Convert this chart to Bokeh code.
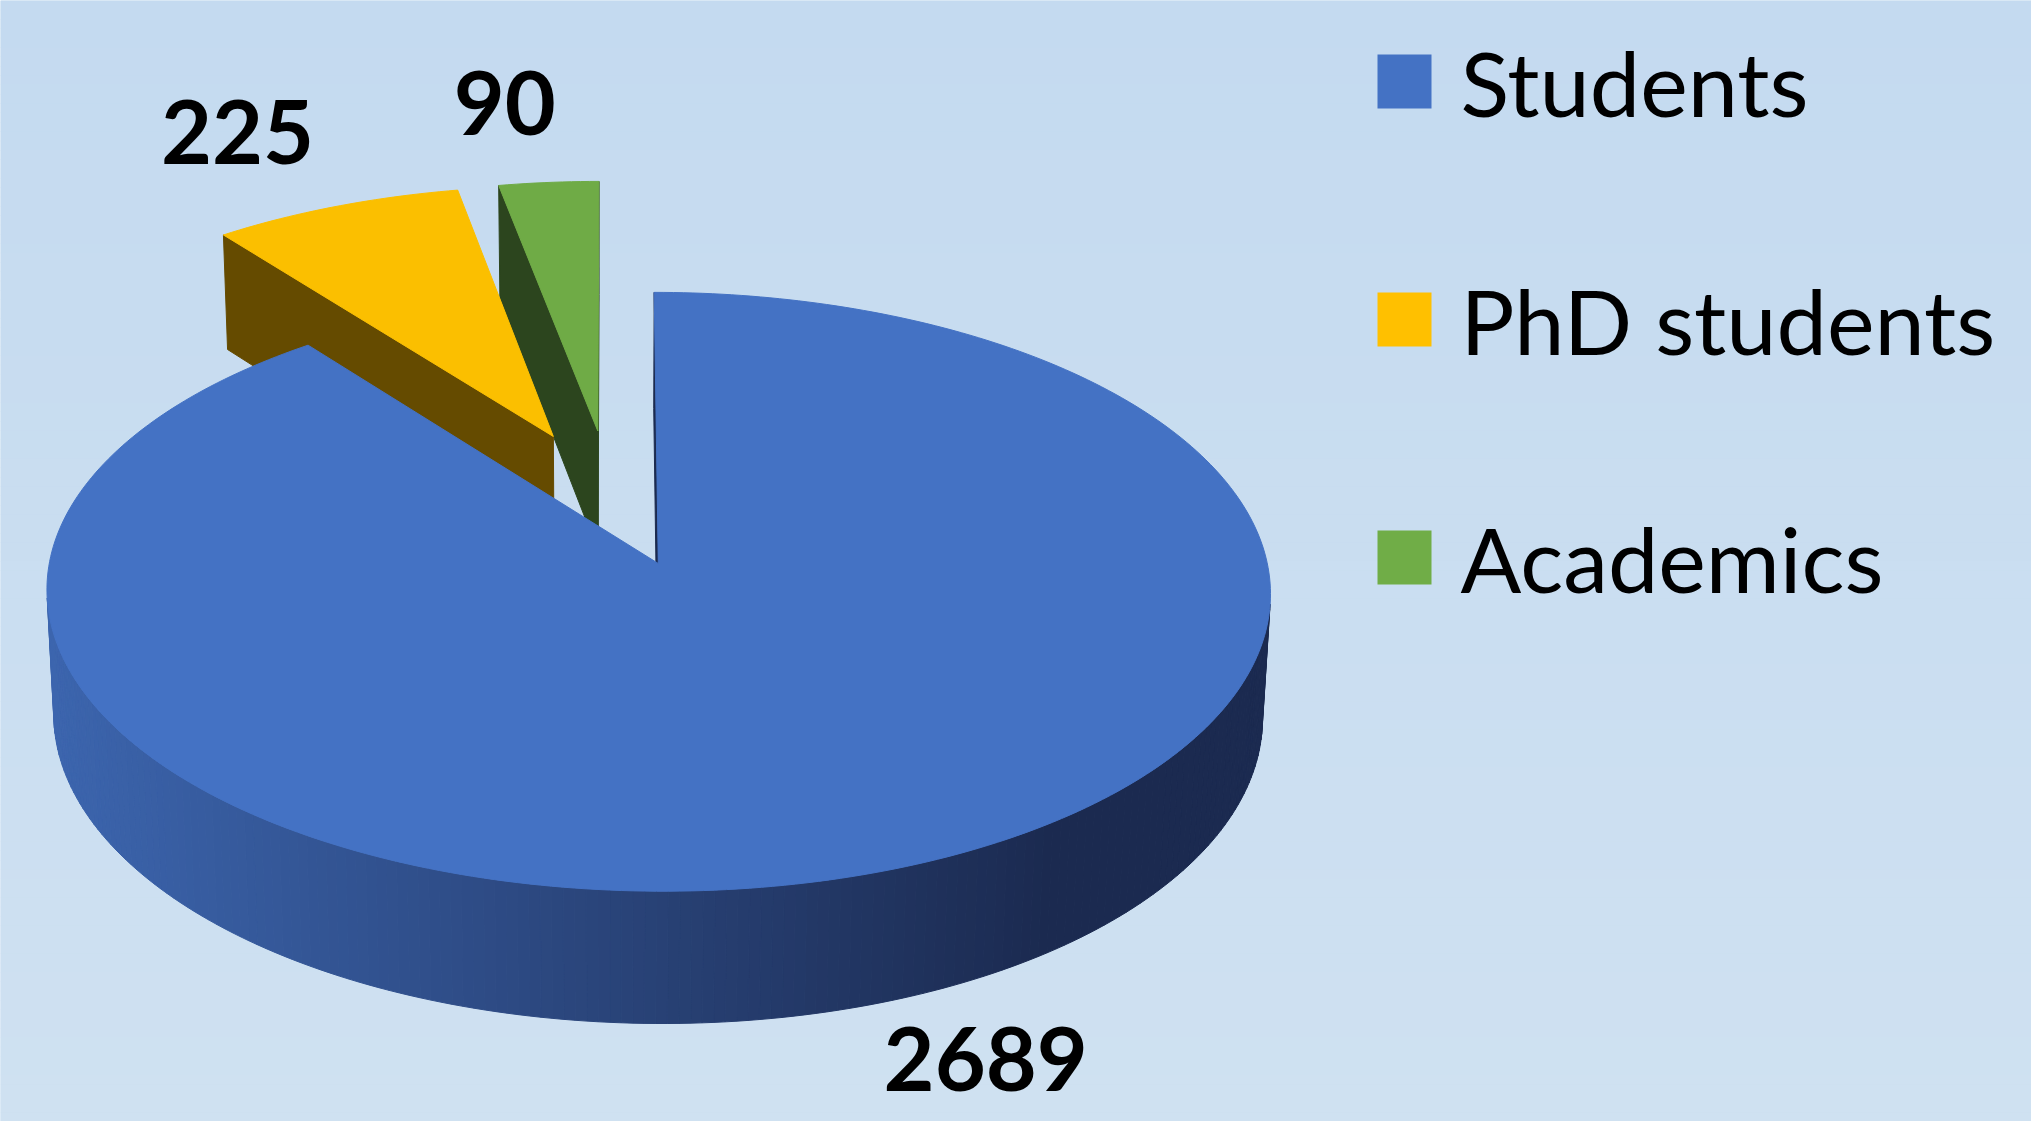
import numpy as np
from bokeh.plotting import figure
from bokeh.models import Range1d
from bokeh.core.properties import value
from bokeh.embed import file_html
from bokeh.resources import INLINE

# ---------------- data ----------------
categories = ["Students", "PhD students", "Academics"]
counts = [2689, 225, 90]
top_colors = ["#4472C4", "#FBBF00", "#6FAB46"]
legend_colors = ["#4472C4", "#FFC000", "#70AD47"]
side_colors = ["#1B2A4F", "#654B00", "#2C451E"]
label_texts = [str(v) for v in counts]

# ---------------- layout / style ----------------
W, H = 2031, 1121
X0, Y0 = 0, 0
BG_TOP = np.array([0xC4, 0xDA, 0xF0])
BG_BOT = np.array([0xCF, 0xE1, 0xF1])
WALL_LIGHT = np.array([0x3C, 0x65, 0xAE])
WALL_DARK = np.array([0x1B, 0x2A, 0x50])

# 3D perspective projection of the pie (pixel space of the page)
CX, CY = 610.5, 497.0
F = 6439.0
G = 10.8
S = 0.477
C = np.sqrt(1 - S * S)
T = S / C
DEPTH = 0.2357
EXPLODE = 0.24
CAM = np.array([0.0, -G * C * C, G * C * S])
LABEL_R = [1.765, 1.6, 1.6]
LABEL_DX = -28

LEG_X, LEG_SIZE, LEG_Y0, LEG_STEP, LEG_TX = 1377, 54, 81, 238, 1460


def proj(X, Y, Z):
    X = np.asarray(X, float)
    Y = np.asarray(Y, float)
    d = G + Y - Z * T
    return CX + F * X / d, CY - F * (Y * S + Z * C) / d


def hexc(rgb):
    r, g, b = [int(round(v)) for v in rgb]
    return "#%02x%02x%02x" % (r, g, b)


p = figure(width=W, height=H, output_backend="svg", toolbar_location=None,
           x_range=Range1d(X0, X0 + W), y_range=Range1d(Y0 + H, Y0),
           x_axis_type=None, y_axis_type=None, min_border=0)
p.outline_line_color = None
p.background_fill_color = hexc(BG_TOP)
p.border_fill_color = hexc(BG_TOP)

# background vertical gradient
nb = 120
edges = np.linspace(0, 1121, nb + 1)
bcols = [hexc(BG_TOP + (BG_BOT - BG_TOP) * (k + 0.5) / nb) for k in range(nb)]
p.quad(left=0, right=2031, top=edges[:-1], bottom=edges[1:] + 0.5,
       fill_color=bcols, line_color=None)

# ---------------- pie geometry ----------------
total = float(sum(counts))
angles = np.concatenate([[0.0], np.cumsum(counts)]) / total * 2 * np.pi

xs_all, ys_all, cols_all = [], [], []
for i in [2, 1, 0]:
    a0, a1 = angles[i], angles[i + 1]
    mid = 0.5 * (a0 + a1)
    ox, oy = EXPLODE * np.sin(mid), EXPLODE * np.cos(mid)
    nseg = max(6, int(np.degrees(a1 - a0) / 1.0) + 2)
    th = np.linspace(a0, a1, nseg)
    rx = ox + np.sin(th)
    ry = oy + np.cos(th)
    tx, ty = proj(rx, ry, 0.0)
    bx, by = proj(rx, ry, -DEPTH)
    # outer wall strips
    for k in range(nseg - 1):
        tm = 0.5 * (th[k] + th[k + 1])
        n = np.array([np.sin(tm), np.cos(tm), 0.0])
        pt = np.array([ox + np.sin(tm), oy + np.cos(tm), 0.0])
        if np.dot(CAM - pt, n) <= 0:
            continue
        px = [tx[k], tx[k + 1], bx[k + 1], bx[k]]
        py = [ty[k], ty[k + 1], by[k + 1], by[k]]
        if i == 0:
            f = np.clip((np.mean(px) - 50) / 1000.0, 0, 1)
            col = hexc(WALL_LIGHT + (WALL_DARK - WALL_LIGHT) * f)
        else:
            col = side_colors[i]
        xs_all.append(px); ys_all.append(py); cols_all.append(col)
    # radial cut faces
    for ang, sg in ((a0, -1.0), (a1, 1.0)):
        n = sg * np.array([np.cos(ang), -np.sin(ang), 0.0])
        pt = np.array([ox, oy, 0.0])
        if np.dot(CAM - pt, n) <= 0:
            continue
        ex, ey = ox + np.sin(ang), oy + np.cos(ang)
        qx_t, qy_t = proj([ox, ex], [oy, ey], 0.0)
        qx_b, qy_b = proj([ox, ex], [oy, ey], -DEPTH)
        xs_all.append([qx_t[0], qx_t[1], qx_b[1], qx_b[0]])
        ys_all.append([qy_t[0], qy_t[1], qy_b[1], qy_b[0]])
        cols_all.append(side_colors[i])
    # top face
    axp, ayp = proj([ox], [oy], 0.0)
    xs_all.append(list(axp) + list(tx))
    ys_all.append(list(ayp) + list(ty))
    cols_all.append(top_colors[i])

p.patches(xs=xs_all, ys=ys_all, fill_color=cols_all, line_color=cols_all, line_width=1)

# ---------------- data labels ----------------
lx, ly = [], []
for i in range(len(counts)):
    mid = 0.5 * (angles[i] + angles[i + 1])
    R = LABEL_R[i]
    qx, qy = proj([R * np.sin(mid)], [R * np.cos(mid)], 0.0)
    lx.append(qx[0] + LABEL_DX)
    ly.append(qy[0])
p.text(x=lx, y=ly, text=label_texts, text_align="center", text_baseline="middle",
       text_font=value("Lato"), text_font_style="bold", text_font_size="88px",
       text_color="#000000")

# ---------------- legend ----------------
cy_leg = [LEG_Y0 + k * LEG_STEP for k in range(len(categories))]
p.quad(left=LEG_X, right=LEG_X + LEG_SIZE,
       top=[c - LEG_SIZE / 2 for c in cy_leg], bottom=[c + LEG_SIZE / 2 for c in cy_leg],
       fill_color=legend_colors, line_color=None)
p.text(x=LEG_TX, y=cy_leg, text=categories, text_align="left", text_baseline="middle",
       text_font=value("Lato"), text_font_size="90px", text_color="#000000")

open("out.html", "w").write(file_html(p, INLINE))
